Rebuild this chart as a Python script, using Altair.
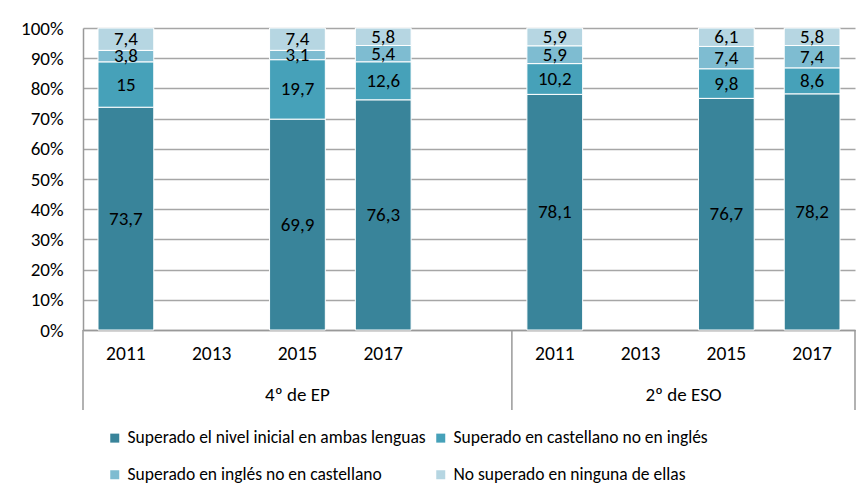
import altair as alt
import pandas as pd

FONT = "Carlito, Calibri, Lato, sans-serif"

# x slots (9 positions: 4 for EP + blank gap, 4 for ESO)
slots = ["EP-2011", "EP-2013", "EP-2015", "EP-2017", "EP-gap",
         "ESO-2011", "ESO-2013", "ESO-2015", "ESO-2017"]
year_labels = ["2011", "2013", "2015", "2017", "", "2011", "2013", "2015", "2017"]

bar_slots = ["EP-2011", "EP-2015", "EP-2017", "ESO-2011", "ESO-2015", "ESO-2017"]

series = ["Superado el nivel inicial en ambas lenguas",
          "Superado en castellano no en inglés",
          "Superado en inglés no en castellano",
          "No superado en ninguna de ellas"]
colors = ["#39849A", "#46A1B9", "#7EBCD1", "#B6D6E2"]

ambas = [73.7, 69.9, 76.3, 78.1, 76.7, 78.2]
castellano = [15, 19.7, 12.6, 10.2, 9.8, 8.6]
ingles = [3.8, 3.1, 5.4, 5.9, 7.4, 7.4]
ninguna = [7.4, 7.4, 5.8, 5.9, 6.1, 5.8]

group_names = ["4º de EP", "2º de ESO"]
group_start = [0, 5]
group_end = [5, 9]
separators = [0, 5, 9]

rows = []
for si, (s, vals) in enumerate(zip(series, [ambas, castellano, ingles, ninguna])):
    for slot, v in zip(bar_slots, vals):
        rows.append(dict(slot=slot, serie=s, value=v, order=si,
                         label=f"{v:g}".replace(".", ",")))
df = pd.DataFrame(rows)
df_years = pd.DataFrame({"slot": slots, "year": year_labels})
df_groups = pd.DataFrame({"grupo": group_names,
                          "center": [(a + b) / 2 for a, b in zip(group_start, group_end)]})
df_seps = pd.DataFrame({"pos": separators})
df_one = pd.DataFrame({"a": [0]})

W, H = 772, 302
xband = alt.Scale(domain=slots, paddingInner=0.35, paddingOuter=0.175)
xq = alt.Scale(domain=[0, 9], nice=False, zero=False)
yscale = alt.Scale(domain=[0, 1])
yaxis = alt.Axis(title=None, format=".0%", values=[i / 10 for i in range(11)],
                 ticks=False, tickSize=0, labelPadding=20, grid=True,
                 gridColor="#A6A6A6", gridWidth=1.5, domainColor="#999999",
                 domainWidth=1.5, labelFontSize=19, labelColor="black",
                 labelFont=FONT)

base = alt.Chart(df).transform_stack(
    stack="value", groupby=["slot"], as_=["v0", "v1"], offset="normalize",
    sort=[alt.SortField("order", order="ascending")]
).transform_calculate(mid="(datum.v0 + datum.v1) / 2")

bars = base.mark_bar(stroke="white", strokeWidth=1).encode(
    x=alt.X("slot:N", scale=xband,
            axis=alt.Axis(title=None, labels=False, ticks=False, grid=False,
                          domainColor="#999999", domainWidth=1.5)),
    y=alt.Y("v0:Q", scale=yscale, axis=yaxis),
    y2="v1:Q",
    color=alt.Color("serie:N", scale=alt.Scale(domain=series, range=colors),
                    legend=alt.Legend(title=None, orient="none", legendX=23,
                                      legendY=401, columns=2, direction="horizontal",
                                      columnPadding=6, rowPadding=18,
                                      symbolType="square",
                                      symbolSize=81, symbolStrokeWidth=0,
                                      labelFont=FONT, labelFontSize=17.5,
                                      labelColor="black", labelLimit=500,
                                      labelOffset=4, padding=0)),
)

labels = base.mark_text(font=FONT, fontSize=19, color="black").encode(
    x=alt.X("slot:N", scale=xband, axis=None),
    y=alt.Y("mid:Q", scale=yscale, axis=yaxis),
    text="label:N",
)

years = alt.Chart(df_years).mark_text(font=FONT, fontSize=19.5, color="black").encode(
    x=alt.X("slot:N", scale=xband, axis=None),
    y=alt.value(326),
    text="year:N",
)

groups = alt.Chart(df_groups).mark_text(font=FONT, fontSize=19, color="black").encode(
    x=alt.X("center:Q", scale=xq, axis=None),
    y=alt.value(367),
    text="grupo:N",
)

seps = alt.Chart(df_seps).mark_rule(color="#999999", strokeWidth=1.5).encode(
    x=alt.X("pos:Q", scale=xq, axis=None),
    y=alt.value(302),
    y2=alt.value(382),
)

frame_top = alt.Chart(df_one).mark_rule(color="#A0A0A0", strokeWidth=2).encode(
    x=alt.value(-77), x2=alt.value(790), y=alt.value(-21.5))
frame_left = alt.Chart(df_one).mark_rule(color="#A0A0A0", strokeWidth=2).encode(
    x=alt.value(-77), y=alt.value(-22), y2=alt.value(470))

chart = alt.layer(bars, labels, years, groups, seps, frame_top, frame_left).resolve_scale(
    x="independent"
).properties(
    width=W, height=H,
    padding={"left": 75, "top": 20, "right": 4, "bottom": 160},
    autosize=alt.AutoSizeParams(type="none"),
    background="white",
).configure_view(strokeWidth=0)

chart.save("out.html", embed_options={"renderer": "svg", "actions": False})
